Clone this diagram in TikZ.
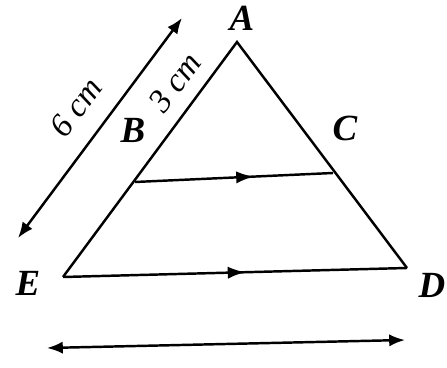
\documentclass[tikz,border=0pt]{standalone}
\usepackage{fontspec}
\setmainfont{Liberation Serif}
\usetikzlibrary{arrows.meta, decorations.markings, calc}

\tikzset{
  edge/.style={line width=1.4pt, line join=miter},
  dimline/.style={line width=1.4pt, {Latex[length=9pt,width=7pt]}-{Latex[length=9pt,width=7pt]}},
  midarrow/.style={postaction={decorate}, decoration={markings,
    mark=at position #1 with {\arrow{Latex[length=10pt,width=7pt]}}}},
  ptlabel/.style={font=\fontsize{21}{24}\selectfont\itshape\bfseries},
  dimlabel/.style={font=\fontsize{19}{22}\selectfont\itshape, rotate=53.4, inner sep=1pt}
}

\begin{document}
\begin{tikzpicture}[x=0.02cm, y=0.02cm]
\useasboundingbox (0,0) rectangle (447,368);
% points of the figure
\coordinate (A) at (237,326);
\coordinate (B) at (135,186);
\coordinate (C) at (333,195);
\coordinate (E) at (63,91);
\coordinate (D) at (407,100);
% ends of the measure arrows
\coordinate (sixtop) at (182,350);
\coordinate (sixbot) at (18,130);
\coordinate (baseL) at (47,20);
\coordinate (baseR) at (405,28);

\draw[edge] (E) -- (A) -- (D);
\draw[edge, midarrow=0.6] (B) -- (C);
\draw[edge, midarrow=0.53] (E) -- (D);

\draw[dimline] (sixbot) -- (sixtop);
\draw[dimline] (baseL) -- (baseR);

\node[ptlabel] (lA) at (242,350) {A};
\node[ptlabel] (lB) at (133,238) {B};
\node[ptlabel] (lC) at (345,240) {C};
\node[ptlabel] (lE) at (28,85) {E};
\node[ptlabel] (lD) at (432,83) {D};
\node[dimlabel] (lsix) at (76,261) {6 cm};
\node[dimlabel] (lthree) at (175,286) {3 cm};
\end{tikzpicture}
\end{document}
